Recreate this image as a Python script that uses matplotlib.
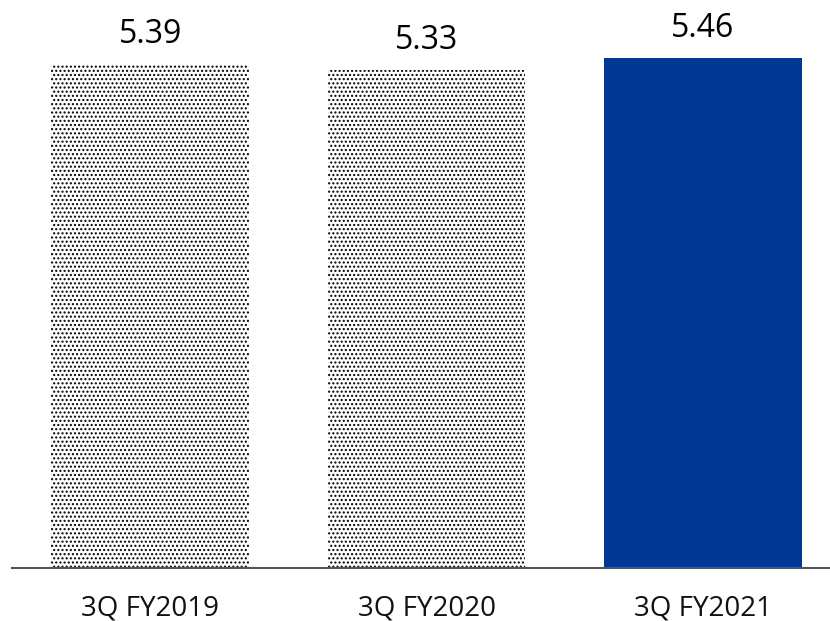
import matplotlib.pyplot as plt
import matplotlib as mpl

# quarterly values
quarters = ['3Q FY2019', '3Q FY2020', '3Q FY2021']
values = [5.39, 5.33, 5.46]

mpl.rcParams['font.family'] = ['Open Sans', 'DejaVu Sans']
mpl.rcParams['hatch.linewidth'] = 1.0

fig = plt.figure(figsize=(8.3, 6.21), dpi=100)
ax = fig.add_axes([12/830, 1 - 568/621, 1 - 12/830, 568/621])

xs = range(len(values))
bars = ax.bar(xs, values, width=0.715, linewidth=0)
# first two bars dotted, last one solid blue
for b in bars[:2]:
    b.set_facecolor('white')
    b.set_edgecolor('black')
    b.set_hatch('....')
    b.set_linewidth(0)
bars[2].set_facecolor('#003893')

for x, v in zip(xs, values):
    ax.text(x, v + 0.14, f'{v:.2f}', ha='center', va='bottom', fontsize=23, color='black')

ax.set_xlim(-0.5, 2.46)
ax.set_ylim(0, 5.46 / 510 * 568)
ax.set_xticks(list(xs))
ax.set_xticklabels(quarters, fontsize=20, color='#111111')
ax.tick_params(axis='x', length=0, pad=19)
ax.set_yticks([])
for s in ['top', 'right', 'left']:
    ax.spines[s].set_visible(False)
ax.spines['bottom'].set_color('#555555')
ax.spines['bottom'].set_linewidth(1.5)

fig.savefig('out.png', dpi=100)
